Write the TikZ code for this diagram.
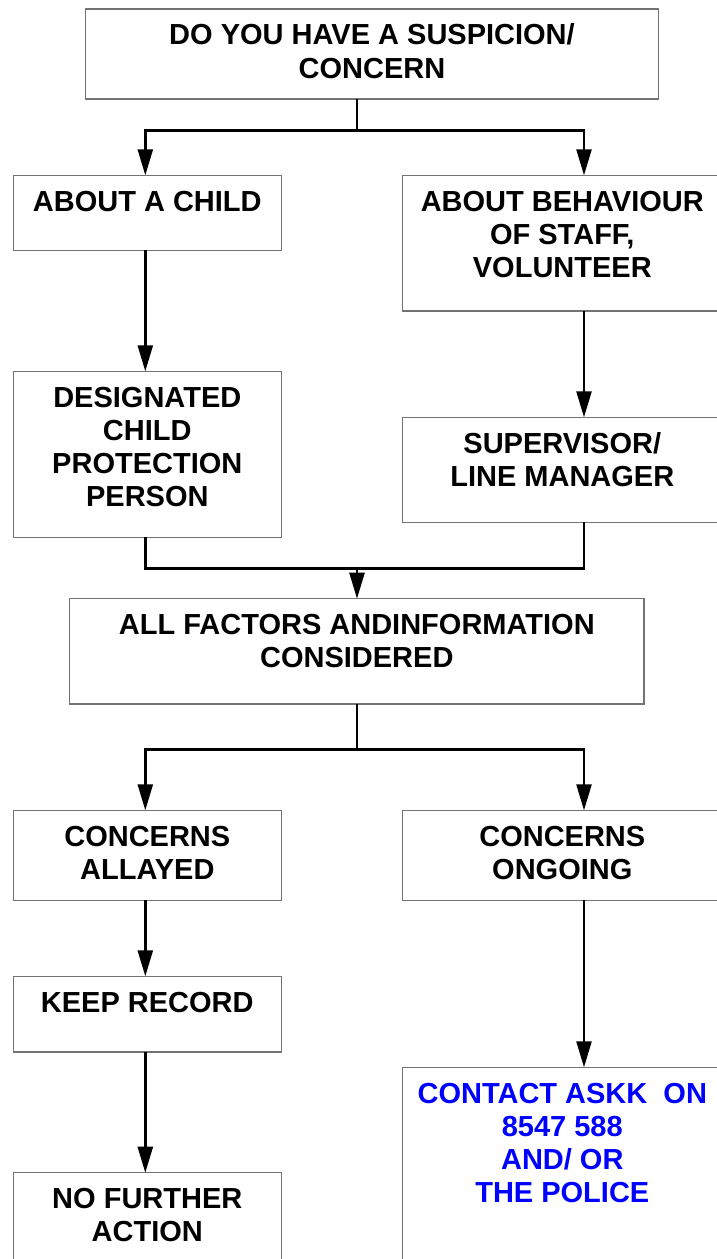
\documentclass[tikz,border=0pt]{standalone}
\usepackage{fontspec}
\setmainfont{Liberation Sans}
\usetikzlibrary{arrows.meta}
\definecolor{boxgray}{RGB}{115,115,115}
\definecolor{txtblue}{RGB}{0,0,255}
\newcommand{\bxt}[3]{\begin{minipage}[t][#2][t]{#1}\centering\fontsize{29}{33.3}\selectfont\bfseries\rule{0pt}{35.7pt}#3\end{minipage}}
\tikzset{
  fbox/.style={draw=boxgray, line width=1.1pt, inner sep=0pt, outer sep=0pt, anchor=north west, rectangle},
  ln/.style={draw=black, line width=2.4pt},
  arr/.style={ln, -{Triangle[length=26pt,width=15pt]}}
}
\begin{document}
\begin{tikzpicture}[x=1pt,y=-1pt]
\useasboundingbox (0,0) rectangle (717,1259);
\fill[white] (0,0) rectangle (717,1259);
% column coordinates
\coordinate (xl) at (145.3,0);
\coordinate (xm) at (357,0);
\coordinate (xr) at (584,0);
% boxes
\node[fbox] (top) at (85.5,9) {\bxt{573pt}{90pt}{DO YOU HAVE A SUSPICION/\\CONCERN}};
\node[fbox] (child) at (13.3,175.3) {\bxt{268pt}{75pt}{ABOUT A CHILD}};
\node[fbox] (behav) at (402.3,175.3) {\bxt{320pt}{135.7pt}{ABOUT BEHAVIOUR\\OF STAFF,\\VOLUNTEER}};
\node[fbox] (desig) at (13.3,371.3) {\bxt{268pt}{166pt}{DESIGNATED\\CHILD\\PROTECTION\\PERSON}};
\node[fbox] (super) at (402.3,417.3) {\bxt{320pt}{105pt}{SUPERVISOR/\\LINE MANAGER}};
\node[fbox] (all) at (69.6,598.7) {\bxt{574.4pt}{105.3pt}{ALL FACTORS ANDINFORMATION\\CONSIDERED}};
\node[fbox] (allay) at (13.3,810.3) {\bxt{268pt}{90pt}{CONCERNS\\ALLAYED}};
\node[fbox] (ongo) at (402.3,810.3) {\bxt{320pt}{90pt}{CONCERNS\\ONGOING}};
\node[fbox] (keep) at (13.3,976.3) {\bxt{268pt}{75.7pt}{KEEP RECORD}};
\node[fbox] (nofa) at (13.3,1172.7) {\bxt{268pt}{100pt}{NO FURTHER\\ACTION}};
\node[fbox] (contact) at (402.3,1067.3) {\bxt{320pt}{200pt}{\color{txtblue}CONTACT ASKK\ \ ON\\8547 588\\AND/ OR\\THE POLICE}};
% junctions
\coordinate (j1) at (357,130.3);
\coordinate (j2) at (357,568.3);
\coordinate (j3) at (357,749.3);
% connectors
\draw[ln] (top.south -| xm) -- (j1);
\draw[arr] (j1) -| (child.north -| xl);
\draw[arr] (j1) -| (behav.north -| xr);
\draw[arr] (child.south -| xl) -- (desig.north -| xl);
\draw[arr] (behav.south -| xr) -- (super.north -| xr);
\draw[ln] (desig.south -| xl) |- (j2);
\draw[ln] (super.south -| xr) |- (j2);
\draw[arr] (j2) -- (all.north -| xm);
\draw[ln] (all.south -| xm) -- (j3);
\draw[arr] (j3) -| (allay.north -| xl);
\draw[arr] (j3) -| (ongo.north -| xr);
\draw[arr] (allay.south -| xl) -- (keep.north -| xl);
\draw[arr] (keep.south -| xl) -- (nofa.north -| xl);
\draw[arr] (ongo.south -| xr) -- (contact.north -| xr);
\end{tikzpicture}
\end{document}
